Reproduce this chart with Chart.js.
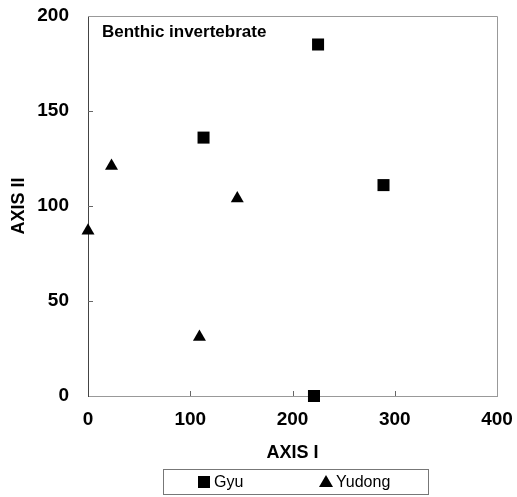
<!DOCTYPE html>
<html>
<head>
<meta charset="utf-8">
<script src="https://cdn.jsdelivr.net/npm/chart.js@4.4.0/dist/chart.umd.min.js"></script>
<style>
  html, body { margin: 0; padding: 0; background: #fff; }
  #wrap { position: relative; width: 517px; height: 497px; }
  #legend {
    position: absolute; left: 163px; top: 469px; width: 264px; height: 24px;
    border: 1px solid #777; font: 16px "Liberation Sans", Arial, sans-serif; color: #000;
  }
  #legend .item { position: absolute; top: 3px; height: 18px; line-height: 18px; white-space: nowrap; }
  #legend .rect { display: inline-block; width: 12px; height: 12px; background: #000; margin-right: 4px; vertical-align: -1px; }
  #legend .triangle {
    display: inline-block; width: 0; height: 0; margin-right: 3px; vertical-align: 0px;
    border-left: 7px solid transparent; border-right: 7px solid transparent; border-bottom: 12px solid #000;
  }
</style>
</head>
<body>
<div id="wrap">
  <canvas id="myScatterChart" width="517" height="497"></canvas>
  <div id="legend"></div>
</div>
<script>
// =================================== Benthic invertebrate ordination ===================================
const seriesNames = ["Gyu", "Yudong"];
const gyuAxis1 = [225, 113, 221, 289];
const gyuAxis2 = [185, 136, 0, 111];
const yudongAxis1 = [23, 146, 0, 109];
const yudongAxis2 = [121, 104, 87, 31];
const xTicks = [0, 100, 200, 300, 400];
const yTicks = [0, 50, 100, 150, 200];
const panelLabel = "Benthic invertebrate";

const FONT = "'Liberation Sans', Arial, sans-serif";

function toPoints(xs, ys) {
  return xs.map(function (x, i) {
    return { x: x, y: ys[i] };
  });
}

// frame, inner tick marks and the panel label
const framePlugin = {
  id: "frame",
  beforeDatasetsDraw: function (chart) {
    const ctx = chart.ctx;
    const a = chart.chartArea;
    const xs = chart.scales.x;
    const ys = chart.scales.y;
    ctx.save();
    ctx.lineWidth = 1;
    ctx.strokeStyle = "#999";
    ctx.beginPath();
    ctx.moveTo(a.left, a.top + 0.5);
    ctx.lineTo(a.right + 0.5, a.top + 0.5);
    ctx.lineTo(a.right + 0.5, a.bottom);
    ctx.stroke();

    ctx.strokeStyle = "#666";
    ctx.beginPath();
    xTicks.slice(1, -1).forEach(function (v) {
      const px = Math.round(xs.getPixelForValue(v)) + 0.5;
      ctx.moveTo(px, a.bottom);
      ctx.lineTo(px, a.bottom - 5);
    });
    yTicks.slice(1, -1).forEach(function (v) {
      const py = Math.round(ys.getPixelForValue(v)) + 0.5;
      ctx.moveTo(a.left, py);
      ctx.lineTo(a.left + 5, py);
    });
    ctx.stroke();

    ctx.fillStyle = "#000";
    ctx.font = "bold 17px " + FONT;
    ctx.textAlign = "left";
    ctx.textBaseline = "middle";
    ctx.fillText(panelLabel, a.left + 14, a.top + 16);
    ctx.restore();
  },
};

function renderScatterChart() {
  var ctx = document.getElementById("myScatterChart").getContext("2d");

  const chart = new Chart(ctx, {
    type: "scatter",
    data: {
      datasets: [
        {
          label: seriesNames[0],
          data: toPoints(gyuAxis1, gyuAxis2),
          pointStyle: "rect",
          pointRadius: 8.5,
          backgroundColor: "#000",
          borderColor: "#000",
          borderWidth: 0,
          clip: false,
        },
        {
          label: seriesNames[1],
          data: toPoints(yudongAxis1, yudongAxis2),
          pointStyle: "triangle",
          pointRadius: 7.5,
          backgroundColor: "#000",
          borderColor: "#000",
          borderWidth: 0,
          clip: false,
        },
      ],
    },
    options: {
      responsive: false,
      animation: false,
      layout: {
        padding: { left: 0, right: 20, top: 16, bottom: 33 },
      },
      scales: {
        x: {
          type: "linear",
          min: 0,
          max: 400,
          afterBuildTicks: function (scale) {
            scale.ticks = xTicks.map(function (v) { return { value: v }; });
          },
          afterFit: function (scale) {
            scale.height = 68;
            scale.paddingLeft = 0;
            scale.paddingRight = 0;
          },
          grid: { display: false, drawTicks: false },
          border: { display: true, color: "#999", width: 1 },
          ticks: {
            padding: 12,
            color: "#000",
            maxRotation: 0,
            font: { family: FONT, size: 19, weight: "bold" },
          },
          title: {
            display: true,
            text: "AXIS I",
            color: "#000",
            padding: { top: 0, bottom: 0 },
            font: { family: FONT, size: 18, weight: "bold" },
          },
        },
        y: {
          type: "linear",
          min: 0,
          max: 200,
          afterBuildTicks: function (scale) {
            scale.ticks = yTicks.map(function (v) { return { value: v }; });
          },
          afterFit: function (scale) {
            scale.width = 88;
            scale.paddingTop = 0;
            scale.paddingBottom = 0;
          },
          grid: { display: false, drawTicks: false },
          border: { display: true, color: "#444", width: 1 },
          ticks: {
            padding: 19,
            color: "#000",
            font: { family: FONT, size: 19, weight: "bold" },
          },
          title: {
            display: true,
            text: "AXIS II",
            color: "#000",
            padding: { top: 8, bottom: 0 },
            font: { family: FONT, size: 18, weight: "bold" },
          },
        },
      },
      plugins: {
        legend: { display: false },
        tooltip: { enabled: false },
      },
    },
    plugins: [framePlugin],
  });

  renderLegend(chart);
}

function renderLegend(chart) {
  const box = document.getElementById("legend");
  const lefts = [34, 155];
  chart.data.datasets.forEach(function (ds, i) {
    const item = document.createElement("span");
    item.className = "item";
    item.style.left = lefts[i] + "px";
    const marker = document.createElement("span");
    marker.className = ds.pointStyle === "rect" ? "rect" : "triangle";
    item.appendChild(marker);
    item.appendChild(document.createTextNode(ds.label));
    box.appendChild(item);
  });
}

renderScatterChart();
</script>
</body>
</html>
